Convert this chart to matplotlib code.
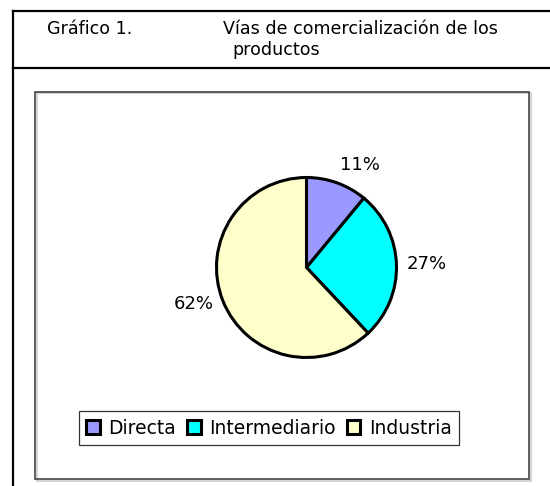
import matplotlib
matplotlib.use('Agg')
import numpy as np
import matplotlib.pyplot as plt
from matplotlib.lines import Line2D
from matplotlib.patches import Rectangle

plt.rcParams['font.family'] = ['DejaVu Sans']

categories = ['Directa', 'Intermediario', 'Industria']
shares = [11, 27, 62]
slice_colors = ['#9999FF', '#00FFFF', '#FFFFCC']

W, H = 550, 486
fig = plt.figure(figsize=(W / 100, H / 100), dpi=100)
fig.patch.set_facecolor('white')

def px(x, y):
    # pixel position from the top-left corner -> figure fraction
    return x / W, 1 - y / H

# table-like frame around the chart
for xs, ys in [([13, 550], [11.5, 11.5]), ([13, 13], [11.5, 486]),
               ([13, 550], [68, 68])]:
    fig.add_artist(Line2D([x / W for x in xs], [1 - y / H for y in ys],
                          color='black', lw=1.6, transform=fig.transFigure))

# title
fig.text(*px(47, 34), 'Gráfico 1.', fontsize=12.6, va='baseline')
fig.text(*px(223, 34), 'Vías de comercialización de los', fontsize=12.6,
         va='baseline')
fig.text(*px(232, 55), 'productos', fontsize=12.6, va='baseline')

# inner chart box with a faint shadow
x0, y0 = px(35, 479)
fig.add_artist(Rectangle((x0 + 1.5 / W, y0 - 1.5 / H), 494 / W, 387 / H,
                         transform=fig.transFigure, fill=False,
                         edgecolor='#cccccc', lw=1.2))
fig.add_artist(Rectangle((x0, y0), 494 / W, 387 / H, transform=fig.transFigure,
                         fill=False, edgecolor='#444444', lw=1.2))

# pie
cx, cy, r = 306.5, 267.5, 90
ax = fig.add_axes([(cx - r) / W, (H - cy - r) / H, 2 * r / W, 2 * r / H])
wedges, _ = ax.pie(shares, colors=slice_colors, startangle=90,
                   counterclock=False,
                   wedgeprops=dict(edgecolor='black', linewidth=2.2))
ax.set_xlim(-1, 1)
ax.set_ylim(-1, 1)
ax.set_aspect('equal')
ax.axis('off')

# percentage labels placed just outside each slice, aligned like Excel does
total = sum(shares)
for w, v in zip(wedges, shares):
    ang = np.deg2rad((w.theta1 + w.theta2) / 2)
    c, s = np.cos(ang), np.sin(ang)
    ha = 'left' if c > 0.3 else ('right' if c < -0.3 else 'center')
    va = 'bottom' if s > 0.5 else ('top' if s < -0.5 else 'center')
    ax.text(1.11 * c, 1.11 * s, f'{round(100 * v / total)}%', ha=ha, va=va,
            fontsize=13, clip_on=False)

# legend
handles = [Rectangle((0, 0), 1, 1, facecolor=c, edgecolor='black', lw=2.2)
           for c in slice_colors]
lx0, ly0 = px(75, 445)
leg = fig.legend(handles, categories, loc='center',
                 bbox_to_anchor=(lx0, ly0, 388 / W, 34 / H),
                 ncol=3, fontsize=13.5, frameon=True, fancybox=False,
                 handlelength=0.7, handleheight=0.7, handletextpad=0.45,
                 columnspacing=0.62, borderpad=0.4, borderaxespad=0)
leg.get_frame().set_edgecolor('black')
leg.get_frame().set_linewidth(0.9)

fig.savefig('out.png', dpi=100)
